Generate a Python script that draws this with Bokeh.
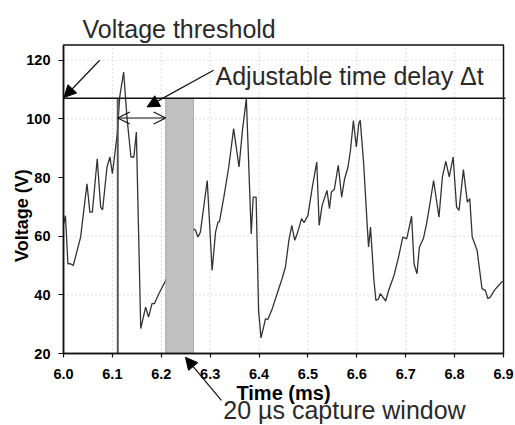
import math
from bokeh.plotting import figure
from bokeh.models import (Range1d, FixedTicker, NumeralTickFormatter, Label,
                          Arrow, NormalHead, OpenHead, ColumnDataSource)
from bokeh.embed import file_html
from bokeh.resources import INLINE

# ---- data ----
time_ms = [6.000, 6.004, 6.009, 6.014, 6.020, 6.035, 6.048, 6.054, 6.059, 6.069,
           6.076, 6.080, 6.089, 6.095, 6.100, 6.103, 6.110, 6.115, 6.123, 6.130,
           6.138, 6.144, 6.149, 6.158, 6.168, 6.174, 6.181, 6.186, 6.195, 6.209,
           6.230, 6.250, 6.267, 6.270, 6.275, 6.280, 6.294, 6.304, 6.311, 6.316,
           6.319, 6.328, 6.338, 6.348, 6.359, 6.366, 6.374, 6.384, 6.388, 6.394,
           6.399, 6.404, 6.410, 6.413, 6.418, 6.427, 6.437, 6.447, 6.454, 6.461,
           6.467, 6.473, 6.478, 6.487, 6.492, 6.500, 6.509, 6.518, 6.523, 6.529,
           6.539, 6.544, 6.548, 6.554, 6.562, 6.569, 6.575, 6.582, 6.587, 6.593,
           6.599, 6.604, 6.607, 6.614, 6.621, 6.624, 6.628, 6.635, 6.639, 6.644,
           6.648, 6.659, 6.665, 6.676, 6.686, 6.694, 6.702, 6.712, 6.717, 6.723,
           6.728, 6.736, 6.742, 6.749, 6.757, 6.768, 6.775, 6.782, 6.789, 6.797,
           6.804, 6.809, 6.818, 6.826, 6.831, 6.836, 6.846, 6.856, 6.863, 6.868,
           6.873, 6.882, 6.890, 6.898]
voltage = [64.0, 67.0, 50.6, 50.6, 50.0, 59.7, 77.9, 68.2, 68.2, 86.4,
           69.9, 69.0, 83.6, 87.0, 81.3, 85.3, 95.0, 107.5, 116.0, 100.1,
           87.0, 87.0, 95.5, 28.5, 35.8, 32.4, 37.0, 37.0, 40.4, 44.9,
           52.0, 58.0, 62.5, 62.0, 59.7, 61.4, 79.0, 48.3, 61.4, 64.8,
           65.0, 73.3, 83.6, 96.7, 83.6, 96.1, 106.9, 60.8, 73.3, 73.3,
           34.7, 25.3, 29.5, 31.8, 31.6, 35.3, 40.4, 45.5, 49.5, 58.6,
           63.7, 58.6, 60.8, 66.0, 64.6, 67.1, 76.8, 85.3, 63.7, 70.5,
           75.6, 69.4, 75.1, 76.0, 84.2, 73.3, 79.6, 83.6, 89.3, 99.4,
           90.4, 98.4, 99.5, 84.7, 64.3, 56.3, 63.1, 44.9, 38.1, 38.5,
           40.4, 37.9, 41.5, 46.6, 53.4, 59.7, 59.1, 66.8, 50.6, 47.2,
           56.3, 59.1, 63.7, 70.5, 79.0, 66.5, 80.2, 85.5, 80.2, 87.0,
           69.9, 68.8, 82.7, 71.6, 72.8, 59.7, 55.2, 42.1, 41.5, 38.7,
           39.2, 41.7, 43.2, 44.7]

threshold_v = 107.0
trigger_t = 6.111
window_left = 6.209
window_right = 6.266
x_min, x_max = 6.0, 6.9
y_min, y_max = 20.0, 125.2
x_ticks = [6.0, 6.1, 6.2, 6.3, 6.4, 6.5, 6.6, 6.7, 6.8, 6.9]
y_ticks = [20, 40, 60, 80, 100, 120]
x_grid = [6.1, 6.2, 6.3, 6.4, 6.5, 6.6, 6.7, 6.8]
y_grid = [40, 60, 100, 120]

FONT = "Liberation Sans"
W, H = 515, 425
# plot-box placement inside the canvas (pixels)
LEFT, RIGHT, TOP, BOTTOM = 63.0, 503.0, 44.5, 353.0
sx = (RIGHT - LEFT) / (x_max - x_min)
sy = (BOTTOM - TOP) / (y_max - y_min)
xr = Range1d(x_min - LEFT / sx, x_max + (W - RIGHT) / sx)
yr = Range1d(y_min - (H - BOTTOM) / sy, y_max + TOP / sy)

p = figure(width=W, height=H, output_backend="svg", toolbar_location=None,
           x_range=xr, y_range=yr, min_border=0)
p.background_fill_color = "white"
p.border_fill_color = "white"
p.outline_line_color = None
p.xgrid.visible = False
p.ygrid.visible = False

# axes drawn at the plot box edges
p.xaxis.fixed_location = y_min
p.yaxis.fixed_location = x_min
p.xaxis.bounds = (x_min, x_max)
p.yaxis.bounds = (y_min, y_max)
p.xaxis.ticker = FixedTicker(ticks=x_ticks)
p.yaxis.ticker = FixedTicker(ticks=y_ticks)
p.xaxis.formatter = NumeralTickFormatter(format="0.0")
p.yaxis.formatter = NumeralTickFormatter(format="0")
for ax in (p.xaxis[0], p.yaxis[0]):
    ax.axis_line_color = "#111111"
    ax.axis_line_width = 1.5
    ax.major_tick_line_color = "#111111"
    ax.major_tick_line_width = 1.2
    ax.major_tick_in = 0
    ax.minor_tick_line_color = None
    ax.major_label_text_font = FONT
    ax.major_label_text_font_style = "bold"
    ax.major_label_text_font_size = "14.5px"
    ax.major_label_text_color = "black"
p.xaxis.major_tick_out = 4
p.yaxis.major_tick_out = 5
p.xaxis.major_label_standoff = 11
p.yaxis.major_label_standoff = 8

# dotted grid lines inside the plot box
p.segment(x0=x_grid, y0=[y_min] * len(x_grid), x1=x_grid, y1=[y_max] * len(x_grid),
          line_color="#bdbdbd", line_dash="1 3", line_width=1)
p.segment(x0=[x_min] * len(y_grid), y0=y_grid, x1=[x_max] * len(y_grid), y1=y_grid,
          line_color="#bdbdbd", line_dash="1 3", line_width=1)

# waveform
src = ColumnDataSource(dict(t=time_ms, v=voltage))
p.line("t", "v", source=src, line_color="#333333", line_width=1.3)

# capture window (drawn over the trace)
p.quad(left=[window_left], right=[window_right], bottom=[y_min], top=[threshold_v],
       fill_color="#c0c0c0", fill_alpha=1.0, line_color="#777777",
       line_dash="1 1", line_width=1)

# trigger line
p.segment(x0=[trigger_t], y0=[y_min], x1=[trigger_t], y1=[threshold_v],
          line_color="#555555", line_width=2)

# threshold line
p.segment(x0=[x_min], y0=[threshold_v], x1=[x_max + 0.004], y1=[threshold_v],
          line_color="#111111", line_width=1.5)

# plot box outline
p.quad(left=[x_min], right=[x_max], bottom=[y_min], top=[y_max],
       fill_color=None, line_color="#111111", line_width=1.5)

# double arrow (time delay)
p.add_layout(Arrow(start=OpenHead(size=12, line_color="#111111", line_width=1.2),
                   end=OpenHead(size=12, line_color="#111111", line_width=1.2),
                   x_start=trigger_t, y_start=100.3, x_end=window_left, y_end=100.3,
                   line_color="#111111", line_width=1.2))

# annotation arrows
p.add_layout(Arrow(end=NormalHead(size=12, fill_color="black", line_color="black"),
                   x_start=6.074, y_start=120.0, x_end=6.001, y_end=107.3,
                   line_color="#111111", line_width=1.2))
p.add_layout(Arrow(end=NormalHead(size=12, fill_color="black", line_color="black"),
                   x_start=6.307, y_start=116.6, x_end=6.171, y_end=104.1,
                   line_color="#111111", line_width=1.2))
p.add_layout(Arrow(end=NormalHead(size=12, fill_color="black", line_color="black"),
                   x_start=6.323, y_start=4.0, x_end=6.2495, y_end=18.7,
                   line_color="#111111", line_width=1.2))

# axis titles
p.add_layout(Label(x=6.45, y=6.6, text="Time (ms)", text_font=FONT,
                   text_font_style="bold", text_font_size="20px", text_color="black",
                   text_align="center", text_baseline="alphabetic"))
p.add_layout(Label(x=5.916, y=67.0, text="Voltage (V)", angle=math.pi / 2,
                   text_font=FONT, text_font_style="bold", text_font_size="18px",
                   text_color="black", text_align="center", text_baseline="middle"))

# annotation texts
lab_kw = dict(text_font=FONT, text_font_size="25px", text_color="#2a2a2a",
              text_baseline="alphabetic", text_align="left")
p.add_layout(Label(x=6.039, y=130.8, text="Voltage threshold", **lab_kw))
p.add_layout(Label(x=6.311, y=114.5, text="Adjustable time delay \u0394t", **lab_kw))
p.add_layout(Label(x=6.327, y=0.6, text="20 \u00b5s capture window", **lab_kw))

open("out.html", "w").write(file_html(p, INLINE))
